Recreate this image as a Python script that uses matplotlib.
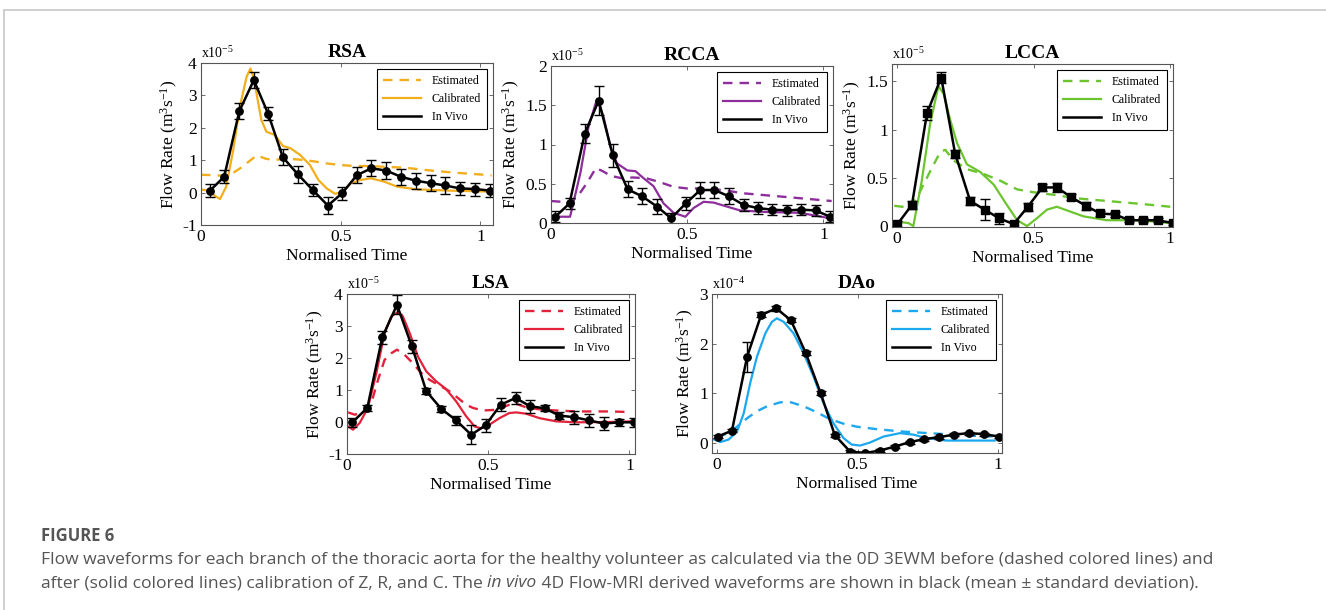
import matplotlib
matplotlib.use('Agg')
import matplotlib.pyplot as plt
from matplotlib.lines import Line2D

plt.rcParams['font.family'] = ['Liberation Serif', 'DejaVu Serif']
plt.rcParams['mathtext.fontset'] = 'custom'
plt.rcParams['mathtext.rm'] = 'Liberation Serif'
plt.rcParams['mathtext.it'] = 'Liberation Serif:italic'

# ---------------- data ----------------
# RSA  (x1e-5)
rsa_vx = [0.032,0.083,0.137,0.189,0.240,0.293,0.347,0.400,0.454,0.505,0.558,0.610,0.663,0.715,0.768,0.822,0.874,0.926,0.982,1.036]
rsa_vy = [0.06,0.49,2.51,3.47,2.44,1.09,0.56,0.08,-0.40,-0.02,0.54,0.75,0.68,0.49,0.37,0.29,0.22,0.13,0.11,0.06]
rsa_ve = [0.2,0.2,0.25,0.25,0.2,0.25,0.25,0.2,0.25,0.2,0.25,0.25,0.25,0.25,0.25,0.25,0.25,0.2,0.2,0.2]
rsa_ex = [0,0.04,0.08,0.11,0.14,0.17,0.2,0.23,0.26,0.3,0.35,0.4,0.45,0.5,0.55,0.6,0.65,0.7,0.75,0.8,0.85,0.9,0.95,1.0,1.04]
rsa_ey = [0.55,0.54,0.52,0.58,0.75,0.95,1.15,1.05,1.0,1.05,1.02,0.97,0.9,0.85,0.82,0.82,0.8,0.78,0.75,0.7,0.66,0.62,0.59,0.56,0.53]
rsa_cx = [0.0,0.03,0.05,0.068,0.09,0.115,0.139,0.163,0.177,0.19,0.2,0.216,0.234,0.264,0.293,0.32,0.355,0.39,0.42,0.45,0.48,0.507,0.537,0.57,0.608,0.655,0.703,0.774,0.893,1.04]
rsa_cy = [0.1,0.05,-0.1,-0.2,0.18,1.3,2.65,3.57,3.83,3.5,3.0,2.24,1.88,1.78,1.44,1.37,1.16,0.85,0.39,0.13,-0.04,0.03,0.29,0.39,0.44,0.34,0.18,0.10,0.06,0.03]

# RCCA (x1e-5)
rcca_vx = [0.016,0.068,0.124,0.175,0.227,0.281,0.334,0.389,0.441,0.495,0.548,0.600,0.653,0.707,0.759,0.812,0.866,0.918,0.971,1.024]
rcca_vy = [0.08,0.25,1.14,1.56,0.86,0.43,0.34,0.21,0.06,0.25,0.42,0.42,0.34,0.23,0.19,0.17,0.16,0.17,0.16,0.08]
rcca_ve = [0.07,0.07,0.12,0.18,0.15,0.1,0.1,0.09,0.07,0.08,0.1,0.1,0.1,0.08,0.08,0.07,0.07,0.07,0.07,0.07]
rcca_ex = [0,0.04,0.07,0.1,0.13,0.165,0.19,0.22,0.26,0.3,0.35,0.4,0.45,0.5,0.55,0.6,0.65,0.7,0.8,0.9,1.03]
rcca_ey = [0.28,0.27,0.26,0.35,0.5,0.7,0.66,0.6,0.57,0.58,0.57,0.52,0.46,0.44,0.44,0.43,0.41,0.38,0.35,0.32,0.28]
rcca_cx = [0.0,0.07,0.108,0.138,0.169,0.193,0.218,0.242,0.28,0.31,0.34,0.376,0.413,0.45,0.493,0.523,0.56,0.597,0.645,0.694,0.79,0.914,1.024]
rcca_cy = [0.08,0.08,0.64,1.23,1.58,1.35,0.97,0.76,0.67,0.66,0.57,0.47,0.25,0.13,0.08,0.19,0.27,0.26,0.21,0.16,0.14,0.13,0.06]

# LCCA (x1e-5)
lcca_vx = [0.002,0.055,0.110,0.162,0.213,0.268,0.321,0.374,0.427,0.479,0.532,0.585,0.637,0.691,0.744,0.798,0.850,0.902,0.955,1.010]
lcca_vy = [0.02,0.22,1.17,1.54,0.75,0.26,0.17,0.08,0.02,0.20,0.40,0.40,0.30,0.21,0.13,0.12,0.06,0.06,0.06,0.03]
lcca_ve = [0.03,0.04,0.07,0.06,0.04,0.04,0.11,0.06,0.03,0.04,0.04,0.05,0.03,0.04,0.03,0.03,0.02,0.02,0.02,0.02]
lcca_ex = [-0.01,0.05,0.085,0.122,0.159,0.177,0.207,0.256,0.317,0.378,0.44,0.5,0.585,0.646,0.768,0.89,1.0]
lcca_ey = [0.21,0.19,0.36,0.57,0.77,0.79,0.68,0.59,0.54,0.47,0.38,0.35,0.32,0.29,0.26,0.23,0.20]
lcca_cx = [-0.01,0.043,0.06,0.091,0.122,0.152,0.171,0.195,0.22,0.256,0.305,0.354,0.402,0.44,0.476,0.512,0.549,0.585,0.634,0.683,0.768,0.89,1.0]
lcca_cy = [0.05,0.03,0.0,0.47,1.07,1.45,1.37,1.10,0.86,0.64,0.56,0.43,0.22,0.06,0.0,0.08,0.17,0.20,0.15,0.10,0.06,0.06,0.03]

# LSA (x1e-5)
lsa_vx = [0.019,0.072,0.125,0.177,0.230,0.281,0.334,0.387,0.440,0.491,0.544,0.597,0.649,0.700,0.752,0.805,0.858,0.910,0.962,1.018]
lsa_vy = [-0.01,0.44,2.65,3.66,2.36,0.96,0.41,0.05,-0.40,-0.10,0.54,0.75,0.49,0.43,0.20,0.15,0.05,-0.05,-0.01,-0.01]
lsa_ve = [0.15,0.1,0.2,0.3,0.2,0.1,0.1,0.15,0.3,0.2,0.2,0.2,0.2,0.1,0.1,0.2,0.2,0.2,0.1,0.15]
lsa_ex = [0.004,0.027,0.057,0.086,0.11,0.133,0.157,0.177,0.204,0.233,0.263,0.292,0.334,0.363,0.393,0.422,0.446,0.481,0.528,0.575,0.599,0.634,0.693,0.811,0.929,1.006]
lsa_ey = [0.30,0.23,0.28,0.59,1.32,1.94,2.15,2.26,2.1,1.84,1.53,1.32,1.11,0.96,0.75,0.54,0.44,0.36,0.38,0.54,0.57,0.46,0.38,0.33,0.33,0.31]
lsa_cx = [0.004,0.021,0.045,0.074,0.104,0.133,0.157,0.177,0.198,0.222,0.251,0.281,0.316,0.351,0.387,0.422,0.452,0.475,0.505,0.54,0.575,0.599,0.634,0.682,0.741,0.811,0.929,1.006]
lsa_cy = [-0.14,-0.24,-0.03,0.44,1.53,2.78,3.30,3.42,3.30,2.78,2.05,1.58,1.27,1.03,0.64,0.18,-0.14,-0.20,-0.08,0.12,0.28,0.30,0.26,0.12,0.02,-0.01,0.0,0.02]

# DAo (x1e-4)
dao_vx = [0.002,0.053,0.107,0.157,0.211,0.263,0.315,0.369,0.419,0.473,0.527,0.580,0.633,0.686,0.738,0.791,0.843,0.897,0.949,1.004]
dao_vy = [0.13,0.25,1.74,2.58,2.71,2.47,1.82,1.00,0.16,-0.17,-0.20,-0.15,-0.07,0.02,0.08,0.12,0.17,0.20,0.18,0.13]
dao_ve = [0.03,0.03,0.3,0.05,0.05,0.04,0.04,0.04,0.03,0.03,0.03,0.03,0.03,0.03,0.03,0.03,0.03,0.03,0.03,0.03]
dao_ex = [0.0,0.04,0.071,0.107,0.142,0.178,0.225,0.263,0.308,0.355,0.402,0.45,0.497,0.568,0.663,0.781,0.899,1.0]
dao_ey = [0.12,0.2,0.33,0.50,0.64,0.74,0.82,0.82,0.74,0.62,0.48,0.39,0.33,0.28,0.23,0.19,0.15,0.13]
dao_cx = [-0.014,0.012,0.041,0.071,0.095,0.118,0.142,0.172,0.195,0.213,0.237,0.272,0.308,0.343,0.379,0.414,0.45,0.479,0.509,0.544,0.592,0.651,0.698,0.746,0.817,0.899,0.988]
dao_cy = [0.08,0.02,0.07,0.23,0.60,1.21,1.74,2.21,2.44,2.51,2.44,2.21,1.81,1.34,0.80,0.40,0.10,-0.03,-0.05,0.01,0.13,0.20,0.17,0.10,0.05,0.05,0.05]

titles = ['RSA', 'RCCA', 'LCCA', 'LSA', 'DAo']
colors = ['#F2AE1C', '#8E2E9C', '#6CC52F', '#E1223A', '#1BA8EE']
exps = ['-5', '-5', '-5', '-5', '-4']

# ---------------- layout ----------------
W, H = 1326, 610
fig = plt.figure(figsize=(W / 100, H / 100), dpi=100)

def box(l, t, r, b):
    return [l / W, 1 - b / H, (r - l) / W, (b - t) / H]

panels = [
    (box(201, 63, 493, 225), rsa_vx, rsa_vy, rsa_ve, rsa_ex, rsa_ey, rsa_cx, rsa_cy, (0, 1.045), (-1, 4), [-1, 0, 1, 2, 3, 4], ['-1', '0', '1', '2', '3', '4'], 'o'),
    (box(551, 66, 833, 223), rcca_vx, rcca_vy, rcca_ve, rcca_ex, rcca_ey, rcca_cx, rcca_cy, (0, 1.035), (0, 2), [0, 0.5, 1, 1.5, 2], ['0', '0.5', '1', '1.5', '2'], 'o'),
    (box(892, 64, 1173, 227), lcca_vx, lcca_vy, lcca_ve, lcca_ex, lcca_ey, lcca_cx, lcca_cy, (-0.018, 1.01), (-0.01, 1.68), [0, 0.5, 1, 1.5], ['0', '0.5', '1', '1.5'], 's'),
    (box(347, 294, 635, 454), lsa_vx, lsa_vy, lsa_ve, lsa_ex, lsa_ey, lsa_cx, lsa_cy, (0, 1.02), (-1, 4), [-1, 0, 1, 2, 3, 4], ['-1', '0', '1', '2', '3', '4'], 'o'),
    (box(712, 294, 1002, 453), dao_vx, dao_vy, dao_ve, dao_ex, dao_ey, dao_cx, dao_cy, (-0.018, 1.014), (-0.2, 3), [0, 1, 2, 3], ['0', '1', '2', '3'], 'o'),
]

for i, p in enumerate(panels):
    rect, vx, vy, ve, ex, ey, cx, cy, xl, yl, yt, ytl, mk = p
    ax = fig.add_axes(rect)
    c = colors[i]
    ax.plot(ex, ey, '--', color=c, lw=1.7, dashes=(4, 3), label='Estimated')
    ax.plot(cx, cy, '-', color=c, lw=1.6, label='Calibrated')
    ax.errorbar(vx, vy, yerr=ve, color='black', lw=1.8, marker=mk, ms=5.3,
                capsize=3.4, elinewidth=1.0, capthick=1.0, label='In Vivo')
    ax.set_xlim(xl)
    ax.set_ylim(yl)
    ax.set_xticks([0, 0.5, 1])
    ax.set_xticklabels(['0', '0.5', '1'])
    ax.set_yticks(yt)
    ax.set_yticklabels(ytl)
    ax.tick_params(direction='in', top=True, right=True, length=3, width=0.6,
                   labelsize=12.5, pad=3, color='#555555')
    for s in ax.spines.values():
        s.set_color('#555555')
        s.set_linewidth(0.8)
    ax.set_xlabel('Normalised Time', fontsize=12.5, labelpad=2)
    ax.set_ylabel('Flow Rate (m$^{3}$s$^{-1}$)', fontsize=12.5, labelpad=2)
    ax.set_title(titles[i], fontsize=14, fontweight='bold', pad=4)
    ax.text(0.0, 1.012, 'x10$^{' + exps[i] + '}$', transform=ax.transAxes,
            fontsize=10, ha='left', va='bottom')
    h, lab = ax.get_legend_handles_labels()
    h[2] = Line2D([], [], color='black', lw=1.8)
    leg = ax.legend(h, lab, loc='upper right', fontsize=8.6, frameon=True,
                    fancybox=False, framealpha=1, edgecolor='black',
                    handlelength=3.2, handletextpad=0.9, borderaxespad=0.5,
                    borderpad=0.5, labelspacing=0.5)
    leg.get_frame().set_linewidth(0.8)

# outer frame (top and left edge visible)
fig.add_artist(Line2D([4 / W, 4 / W], [0, 1 - 9.5 / H], transform=fig.transFigure, color='#cccccc', lw=1.3))
fig.add_artist(Line2D([4 / W, 1], [1 - 9.5 / H, 1 - 9.5 / H], transform=fig.transFigure, color='#cccccc', lw=1.3))

# ---------------- caption ----------------
cap_font = ['Liberation Sans Narrow', 'Open Sans', 'DejaVu Sans']
cap_col = '#555555'
fig.text(41 / W, 1 - 536 / H, 'FIGURE 6', fontsize=12, family=cap_font,
         fontweight='bold', color=cap_col, va='center', ha='left')
fig.text(41 / W, 1 - 560 / H,
         'Flow waveforms for each branch of the thoracic aorta for the healthy volunteer as calculated via the 0D 3EWM before (dashed colored lines) and',
         fontsize=12.6, family=cap_font, color=cap_col, va='center', ha='left')

pieces = [('after (solid colored lines) calibration of Z, R, and C. The ', 'normal'),
          ('in vivo', 'italic'),
          (' 4D Flow-MRI derived waveforms are shown in black (mean \u00b1 standard deviation).', 'normal')]
fig.canvas.draw()
rend = fig.canvas.get_renderer()
xpos = 41
for txt, st in pieces:
    t = fig.text(xpos / W, 1 - 583 / H, txt, fontsize=12.6, family=cap_font,
                 style=st, color=cap_col, va='center', ha='left')
    bb = t.get_window_extent(renderer=rend)
    xpos += bb.width

fig.savefig('out.png', dpi=100)
